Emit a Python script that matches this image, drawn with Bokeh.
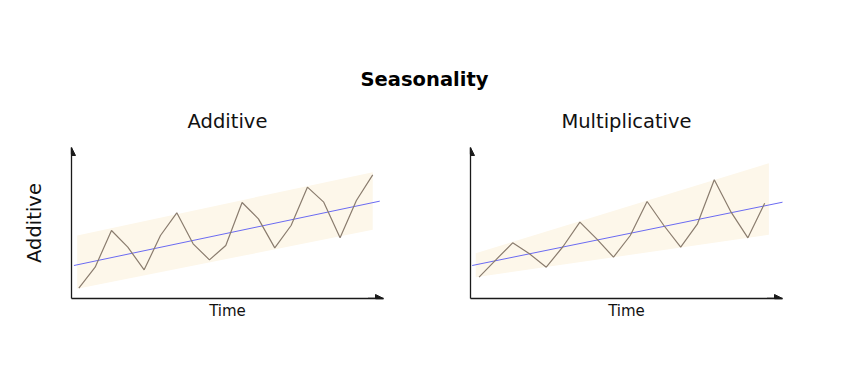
from bokeh.plotting import figure
from bokeh.layouts import column, row
from bokeh.models import Range1d, Arrow, NormalHead, FixedTicker
from bokeh.embed import file_html
from bokeh.resources import INLINE
from bokeh.core.properties import value

FONT = "DejaVu Sans"

# ---------------- data ----------------
main_title = "Seasonality"
panel_titles = ["Additive", "Multiplicative"]
x_label = "Time"
y_label = "Additive"

add_t = list(range(19))
add_y = [3.7, 10.0, 21.0, 16.0, 9.2, 19.5, 26.3, 17.0, 12.2, 16.5,
         29.4, 24.5, 15.8, 22.5, 34.0, 29.5, 18.8, 30.0, 37.7]
add_trend_t = [-0.3, 18.43]
add_trend_y = [10.5, 29.8]
add_band_t = [-0.1, 18.0]
add_band_lo = [3.5, 21.2]
add_band_hi = [19.5, 38.5]

mul_t = list(range(18))
mul_y = [7.0, 12.2, 17.3, 14.0, 10.0, 16.2, 23.5, 18.5, 13.0, 19.5,
         29.7, 22.5, 16.0, 23.0, 36.2, 26.5, 18.8, 29.2]
mul_trend_t = [-0.41, 18.27]
mul_trend_y = [10.5, 29.7]
mul_band_t = [-0.2, 17.25]
mul_band_lo = [7.0, 19.7]
mul_band_hi = [14.2, 41.2]

SERIES_COLOR = "#8a7c6e"
TREND_COLOR = "#6a6af2"
BAND_COLOR = "#fdf7ea"
AXIS_COLOR = "#1a1a1a"

HEADER_H = 91
PANEL_H = 367 - HEADER_H


def panel(title, t, y, tt, ty, bt, blo, bhi, xr, yr, left, right, ylab):
    p = figure(width=428, height=PANEL_H, x_range=Range1d(*xr), y_range=Range1d(*yr),
               toolbar_location=None, output_backend="svg",
               min_border_left=left, min_border_right=right,
               min_border_top=56, min_border_bottom=69)
    p.title.text = title
    p.title.align = "center"
    p.title.text_font = FONT
    p.title.text_font_size = "19.5px"
    p.title.text_font_style = "normal"
    p.title.text_color = "#111111"
    p.title.standoff = 29
    p.outline_line_color = None
    p.grid.visible = False
    for ax in (p.xaxis[0], p.yaxis[0]):
        ax.ticker = FixedTicker(ticks=[])
        ax.major_tick_line_color = None
        ax.minor_tick_line_color = None
        ax.major_label_text_font_size = "0px"
        ax.major_label_standoff = 0
        ax.axis_line_color = AXIS_COLOR
        ax.axis_line_width = 1.3
        ax.axis_label_text_font = FONT
        ax.axis_label_text_font_style = "normal"
        ax.axis_label_text_color = "#111111"
    p.xaxis.axis_label = x_label
    p.xaxis.axis_label_text_font_size = "15px"
    p.xaxis.axis_label_standoff = 3
    if ylab:
        p.yaxis.axis_label = ylab
        p.yaxis.axis_label_text_font_size = "19.5px"
        p.yaxis.axis_label_standoff = 26

    p.varea(x=bt, y1=blo, y2=bhi, fill_color=BAND_COLOR, fill_alpha=1.0)
    p.line(tt, ty, line_color=TREND_COLOR, line_width=1.0)
    p.line(t, y, line_color=SERIES_COLOR, line_width=1.2)

    head = dict(size=8, fill_color=AXIS_COLOR, line_color=AXIS_COLOR, line_width=1)
    p.add_layout(Arrow(end=NormalHead(**head), x_start=xr[0], y_start=yr[1] - 2,
                       x_end=xr[0], y_end=yr[1], line_color=AXIS_COLOR, line_width=1.3))
    span = xr[1] - xr[0]
    p.add_layout(Arrow(end=NormalHead(**head), x_start=xr[1] - span * 0.05, y_start=yr[0],
                       x_end=xr[1], y_end=yr[0], line_color=AXIS_COLOR, line_width=1.3))
    return p


p1 = panel(panel_titles[0], add_t, add_y, add_trend_t, add_trend_y,
           add_band_t, add_band_lo, add_band_hi,
           (-0.449, 18.66), (0.6, 45.9), 71, 45, y_label)
p2 = panel(panel_titles[1], mul_t, mul_y, mul_trend_t, mul_trend_y,
           mul_band_t, mul_band_lo, mul_band_hi,
           (-0.51, 18.06), (0.6, 45.9), 42, 74, None)

header = figure(width=856, height=HEADER_H, x_range=Range1d(0, 856), y_range=Range1d(0, HEADER_H),
                x_axis_location=None, y_axis_location=None, title=None,
                toolbar_location=None, output_backend="svg", min_border=0)
header.outline_line_color = None
header.grid.visible = False
header.text(x=[424], y=[12.3], text=[main_title], text_align="center",
            text_baseline="alphabetic", text_font=value(FONT),
            text_font_style="bold", text_font_size="19.5px", text_color="#000000")

layout = column(header, row(p1, p2))
open("out.html", "w").write(file_html(layout, INLINE))
